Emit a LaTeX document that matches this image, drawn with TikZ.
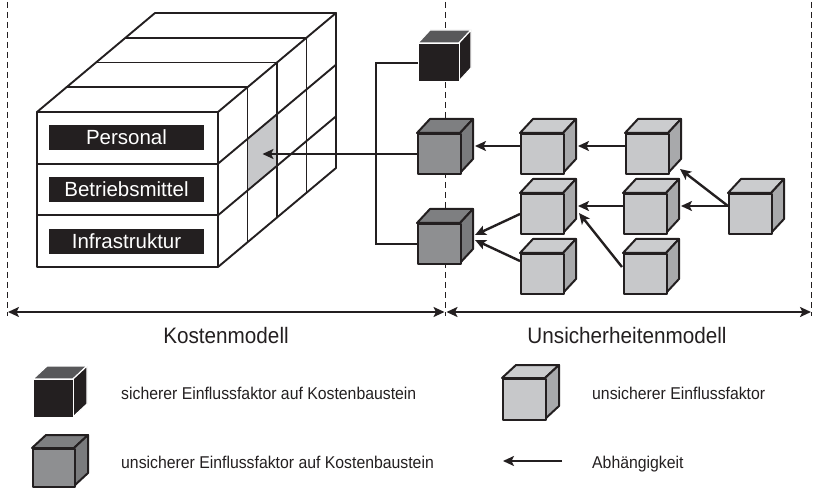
\documentclass[tikz,border=0pt]{standalone}
\usepackage{fontspec}
\setmainfont{Liberation Sans}
\usetikzlibrary{arrows.meta,calc}

\definecolor{ink}{HTML}{231F20}
\definecolor{blackcap}{HTML}{58585A}
\definecolor{darkface}{HTML}{8E8F91}
\definecolor{darkcap}{HTML}{7E7F81}
\definecolor{darkflank}{HTML}{7A7B7D}
\definecolor{lightface}{HTML}{C7C8CA}
\definecolor{lightcap}{HTML}{CBCCCE}
\definecolor{lightflank}{HTML}{A8A9AB}

\tikzset{
  edge/.style={draw=ink, line width=2pt, line join=round},
  blackfront/.style={fill=ink, draw=white, line width=1.2pt, inner sep=0pt},
  blacktop/.style={fill=blackcap, draw=white, line width=1.2pt, line join=round},
  blackside/.style={fill=ink, draw=white, line width=1.2pt, line join=round},
  darkfront/.style={edge, fill=darkface, inner sep=0pt},
  darktop/.style={edge, fill=darkcap},
  darkside/.style={edge, fill=darkflank},
  lightfront/.style={edge, fill=lightface, inner sep=0pt},
  lighttop/.style={edge, fill=lightcap},
  lightside/.style={edge, fill=lightflank},
  boxline/.style={draw=ink, line width=1.9pt, line join=round, line cap=round},
  dashline/.style={draw=ink, line width=1.7pt, dash pattern=on 6pt off 4pt},
  dep/.style={draw=ink, line width=2.4pt, -{Stealth[length=11pt,width=10pt,inset=2.5pt]}},
  dim/.style={draw=ink, line width=2.4pt,
    {Stealth[length=11pt,width=10pt,inset=2.5pt]}-{Stealth[length=11pt,width=10pt,inset=2.5pt]}},
  bracket/.style={draw=ink, line width=1.9pt},
  lbl/.style={fill=ink, text=white, minimum width=155pt, minimum height=25pt,
    inner sep=0pt, font=\fontsize{20.5}{22}\selectfont},
  heading/.style={text=ink, inner sep=0pt, anchor=base, font=\fontsize{20.7}{24}\selectfont},
  legtext/.style={text=ink, inner sep=0pt, anchor=base west, font=\fontsize{15.8}{18}\selectfont},
}

% cube: name, kind, left, top (front face), width, height, depth dx, depth dy
\newcommand\drawcube[8]{%
  \path[#2top] (#3,#4) -- ++(#7,-#8) -- ++(#5,0) -- ++(-#7,#8) -- cycle;
  \path[#2side] (#3+#5,#4) -- ++(#7,-#8) -- ++(0,#6) -- ++(-#7,#8) -- cycle;
  \node[#2front, minimum width=#5, minimum height=#6, anchor=north west] (#1) at (#3,#4) {};
  \coordinate (#1-l) at (#3, #4+#6/2-#8/2);
  \coordinate (#1-r) at (#3+#5+#7+2, #4+#6/2-#8/2);
}

\newcommand\stretchtext[1]{\scalebox{1}[1.08]{#1}}

\begin{document}
\begin{tikzpicture}[x=1pt, y=-1pt]
\useasboundingbox (0,0) rectangle (814,489);

% section borders
\coordinate (lt) at (7.5,2);   \coordinate (lb) at (7.5,316);
\coordinate (mt) at (445.5,2); \coordinate (mb) at (445.5,316);
\coordinate (rt) at (811.5,2); \coordinate (rb) at (811.5,316);
\draw[dashline] (lt) -- (lb);
\draw[dashline] (mt) -- (mb);
\draw[dashline] (rt) -- (rb);

% cost model block: front face, top face, right face
\fill[lightface] (247.5,138.95) -- (277,114.2) -- (277,165.8) -- (247.5,190.55) -- cycle;
\coordinate (cell) at (262.5,152.4);
\draw[boxline, fill=white] (37,112) rectangle (218,267);
\draw[boxline] (37,163.7) -- (218,163.7) (37,215.3) -- (218,215.3);
\draw[boxline] (37,112) -- (155,13) (218,112) -- (336,13);
\foreach \k in {1,2,3,4}
  \draw[boxline] (37+\k*29.5, 112-\k*24.75) -- ++(181,0);
\foreach \k in {1,2,3,4}
  \draw[boxline] (218+\k*29.5, 112-\k*24.75) -- ++(0,155);
\foreach \y in {163.7,215.3,267}
  \draw[boxline] (218,\y) -- ++(118,-99);

\node[lbl] (pers) at (126.5,137.5) {Personal};
\node[lbl] (betr) at (126.5,189.5) {Betriebsmittel};
\node[lbl] (infr) at (126.5,241.2) {Infrastruktur};

% influence factors
\drawcube{blk}{black}{418}{43}{41}{38}{12}{13}
\drawcube{dk1}{dark}{417}{133}{43}{40}{13}{14}
\drawcube{dk2}{dark}{417}{223}{43}{40}{13}{14}
\drawcube{A}{light}{520}{133}{43}{40}{13}{14}
\drawcube{B}{light}{520}{193}{43}{40}{13}{14}
\drawcube{C}{light}{520}{253}{43}{40}{13}{14}
\drawcube{D}{light}{625}{133}{43}{40}{13}{14}
\drawcube{E}{light}{623}{193}{43}{40}{13}{14}
\drawcube{F}{light}{623}{253}{43}{40}{13}{14}
\drawcube{G}{light}{728}{193}{43}{40}{13}{14}

% links to the cost model
\draw[bracket] (blk.west) -- ++(-42,0) |- (dk2.west);
\draw[dep] (dk1.west) -- (dk1.west -| cell);

% dependencies
\draw[dep] (A-l) -- (dk1-r);
\draw[dep] (D-l) -- (A-r);
\draw[dep] (G-l) -- ($(D.south east)+(10,-6)$);
\draw[dep] (G-l) -- (E-r);
\draw[dep] (E-l) -- (B-r);
\draw[dep] ($(F-l)+(-1,1)$) -- ($(B.east)+(14,-1)$);
\draw[dep] (B.west) -- ($(dk2-r)+(0,-1)$);
\draw[dep] ($(C.west)+(0,-13)$) -- ($(dk2-r)+(0,4)$);

% extents of the two models
\coordinate (ld) at (7.5,312);
\coordinate (md) at (445.5,312);
\coordinate (rd) at (811.5,312);
\draw[dim, shorten <=0.5pt, shorten >=1pt] (ld) -- (md);
\draw[dim, shorten <=1pt, shorten >=0.5pt] (md) -- (rd);
\node[heading] (km) at (226,343) {\stretchtext{Kostenmodell}};
\node[heading] (um) at (627,343) {\stretchtext{Unsicherheitenmodell}};

% legend
\drawcube{lg1}{black}{33}{379}{40}{38}{14}{13}
\drawcube{lg2}{dark}{32}{448}{42}{38}{14}{13}
\drawcube{lg3}{light}{502}{378}{43}{41}{14}{13}
\coordinate (lgtail) at (562,461);
\coordinate (lghead) at (503,461);
\draw[dep] (lgtail) -- (lghead);
\node[legtext] (t1) at (121,399) {\stretchtext{sicherer Einflussfaktor auf Kostenbaustein}};
\node[legtext] (t2) at (121,468) {\stretchtext{unsicherer Einflussfaktor auf Kostenbaustein}};
\node[legtext] (t3) at (592,399) {\stretchtext{unsicherer Einflussfaktor}};
\node[legtext] (t4) at (592,468) {\stretchtext{Abhängigkeit}};
\end{tikzpicture}
\end{document}
